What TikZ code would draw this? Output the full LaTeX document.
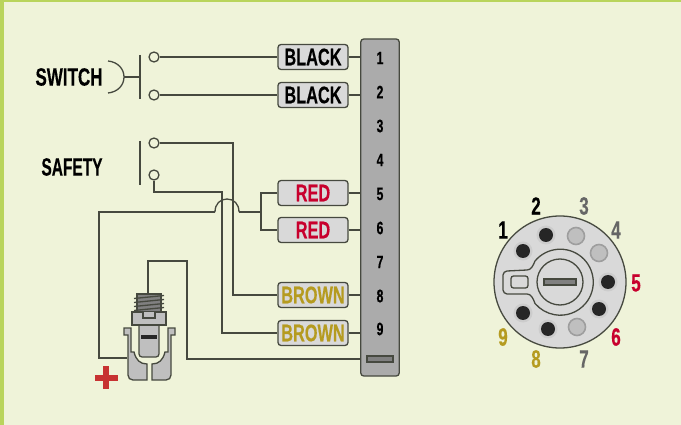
\documentclass[tikz,border=0pt]{standalone}
\usepackage{fontspec}
\newfontfamily\wirefont[FakeStretch=0.68,FakeBold=0.3]{Liberation Sans}
\usetikzlibrary{positioning}
\definecolor{paper}{HTML}{EFF3D9}
\definecolor{edge}{HTML}{B9D45C}
\definecolor{wire}{HTML}{46493F}
\definecolor{tagfill}{HTML}{D9D9D9}
\definecolor{stripfill}{HTML}{ABABAB}
\definecolor{partfill}{HTML}{BFBFBF}
\definecolor{redtext}{HTML}{C8002D}
\definecolor{goldtext}{HTML}{B59B20}
\definecolor{greytext}{HTML}{666666}
\definecolor{plusred}{HTML}{C73232}
\tikzset{
  line/.style = {draw = wire, line width = 1.3pt},
  contact/.style = {line, circle, inner sep = 0pt, minimum size = 10pt},
  wiretag/.style = {line, rounded corners = 3pt, fill = tagfill, minimum width = 70pt, minimum height = 25pt, inner sep = 0pt, font = \wirefont\bfseries\fontsize{24}{24}\selectfont},
  caption/.style = {inner sep = 0pt, font = \wirefont\bfseries\fontsize{25}{25}\selectfont},
  pinnum/.style = {inner sep = 0pt, font = \wirefont\bfseries\fontsize{18}{18}\selectfont},
  facenum/.style = {inner sep = 0pt, font = \wirefont\bfseries\fontsize{25}{25}\selectfont},
  darkhole/.style = {circle, inner sep = 0pt, minimum size = 14pt, fill = black!85},
  lighthole/.style = {circle, inner sep = 0pt, minimum size = 17pt, fill = partfill, draw = black!38, line width = 1.6pt},
  halo/.style = {circle, inner sep = 0pt, minimum size = 19pt, fill = black!20}
}
\begin{document}
\begin{tikzpicture}[x = 1pt, y = -1pt]
\useasboundingbox (0, 0) rectangle (681, 425);
\fill[paper] (0, 0) rectangle (681, 425);
\fill[edge] (0, 0) rectangle (681, 2);
\fill[edge] (0, 0) rectangle (4, 425);
% strip
\node[line, fill = stripfill, rounded corners = 3pt, minimum width = 38.5pt, minimum height = 337pt, inner sep = 0pt] (strip) at (380, 207.5) {};
\foreach \y/\n in {58/1, 92/2, 126/3, 160/4, 194/5, 228/6, 262/7, 296/8, 329/9}
  \node[pinnum] (pin\n) at (380, \y) {\n};
\node[line, fill = black!50, minimum width = 26pt, minimum height = 6pt, inner sep = 0pt] (slot) at (380, 359) {};
% tags
\node[wiretag] (blackA) at (313, 57) {BLACK};
\node[wiretag] (blackB) at (313, 95) {BLACK};
\node[wiretag, text = redtext] (redA) at (313, 193) {RED};
\node[wiretag, text = redtext] (redB) at (313, 230) {RED};
\node[wiretag, text = goldtext] (brownA) at (313, 295) {BROWN};
\node[wiretag, text = goldtext] (brownB) at (313, 333) {BROWN};
\foreach \t in {blackA, blackB, redA, redB, brownA, brownB}
  \draw[line] (\t.east) -- (\t.east -| strip.west);
% switch
\node[caption] (switchtext) at (69, 77) {SWITCH};
\node[contact] (swA) at (154, 57) {};
\node[contact] (swB) at (154, 95) {};
\draw[line] (swA) -- (blackA);
\draw[line] (swB) -- (blackB);
\coordinate (swbartop) at (140, 55);
\coordinate (swbarend) at (140, 99);
\coordinate (swpush) at (124, 77);
\draw[line] (swbartop) -- (swbarend);
\draw[line] (swpush) -- (swpush -| swbartop);
\draw[line] (108, 61) .. controls (118, 62) and (124, 69) .. (swpush) .. controls (124, 85) and (118, 92) .. (108, 93);
% safety
\node[caption, transform shape, xscale = 0.91] (safetytext) at (72, 167) {SAFETY};
\node[contact] (safeA) at (154, 143) {};
\node[contact] (safeB) at (154, 175) {};
\draw[line] (140, 141) -- (140, 185);
\coordinate (cornerA) at (233, 143);
\coordinate (cornerB) at (222, 192);
\coordinate (cornerC) at (154, 192);
\draw[line] (safeA) -- (cornerA) |- (brownA);
\draw[line] (safeB) -- (cornerC) -- (cornerB) |- (brownB);
% red pair and lamp
\coordinate (redjoin) at (261, 212);
\coordinate (humpright) at (239, 212);
\coordinate (humpleft) at (215, 212);
\coordinate (lampclip) at (127, 358);
\draw[line] (redA) -| (redjoin) |- (redB);
\draw[line] (redjoin) -- (humpright);
\draw[line] (humpright) .. controls (239, 204) and (234, 199) .. (227, 199) .. controls (220, 199) and (215, 204) .. (humpleft);
\draw[line] (humpleft) -- (99, 212) |- (lampclip);
\draw[line] (strip.west |- slot) -- (187, 359) -- (187, 261) -- (148, 261) -- (148, 295);
% lamp
\foreach \s in {0, 1} {
  \begin{scope}[shift = {(\s*299, 0)}, xscale = 1-2*\s]
    \draw[line, fill = partfill] (124, 328) -- (131, 328) -- (131, 352) -- (134, 352) .. controls (136, 360) and (140, 364) .. (147, 364) -- (147, 380) -- (133, 380) .. controls (130, 380) and (128, 378) .. (128, 375) -- (128, 335) -- (124, 335) -- cycle;
  \end{scope}
}
\draw[line, fill = partfill, rounded corners = 3pt] (139, 320) -- (159, 320) -- (159, 357) -- (139, 357) -- cycle;
\fill[black!85] (141, 335) rectangle (157, 339);
\draw[line, fill = black!50] (137, 294) rectangle (161, 312);
\foreach \y in {297, 301, 305, 309}
  \draw[line] (134, \y + 1.5) -- (164, \y - 1.5);
\draw[line, fill = partfill] (132, 312) rectangle (166, 325);
\draw[line, fill = partfill] (143, 312) -- (143, 318) -- (155, 318) -- (155, 312);
% plus
\fill[plusred] (103, 366) rectangle (109, 389);
\fill[plusred] (95, 375) rectangle (118, 381);
% face
\node[line, circle, fill = tagfill, minimum size = 132pt, inner sep = 0pt] (face) at (560, 282) {};
\draw[line] (535, 261) arc [start angle = -140, delta angle = 280, radius = 33] .. controls (533, 298) and (531, 294) .. (527, 294) -- (507, 294) .. controls (505, 294) and (503, 292) .. (503, 290) -- (503, 275) .. controls (503, 273) and (505, 271) .. (507, 271) -- (527, 270) .. controls (531, 270) and (533, 266) .. cycle;
\node[line, circle, minimum size = 46pt, inner sep = 0pt] (hub) at (560, 282) {};
\node[line, fill = black!50, minimum width = 32pt, minimum height = 6pt, inner sep = 0pt] (hubslot) at (560, 282) {};
\node[line, rounded corners = 2.5pt, minimum width = 17pt, minimum height = 12pt, inner sep = 0pt] (keyslot) at (519.5, 282) {};
\foreach \n/\x/\y in {a/523/251, b/546/235, c/599/309, d/608/282, e/548/329, f/523/313} {
  \node[halo] (halo\n) at (\x, \y) {};
  \node[darkhole] (hole\n) at (\x, \y) {};
}
\foreach \n/\x/\y in {g/576/236, h/599/253, i/577/327}
  \node[lighthole] (hole\n) at (\x, \y) {};
\foreach \n/\x/\y/\c in {1/503/230/black, 2/536/206/black, 3/584/206/greytext, 4/616/230/greytext, 5/636/283/redtext, 6/616/337/redtext, 7/584/359/greytext, 8/536/359/goldtext, 9/503/337/goldtext}
  \node[facenum, text = \c] (num\n) at (\x, \y) {\n};
\end{tikzpicture}
\end{document}
